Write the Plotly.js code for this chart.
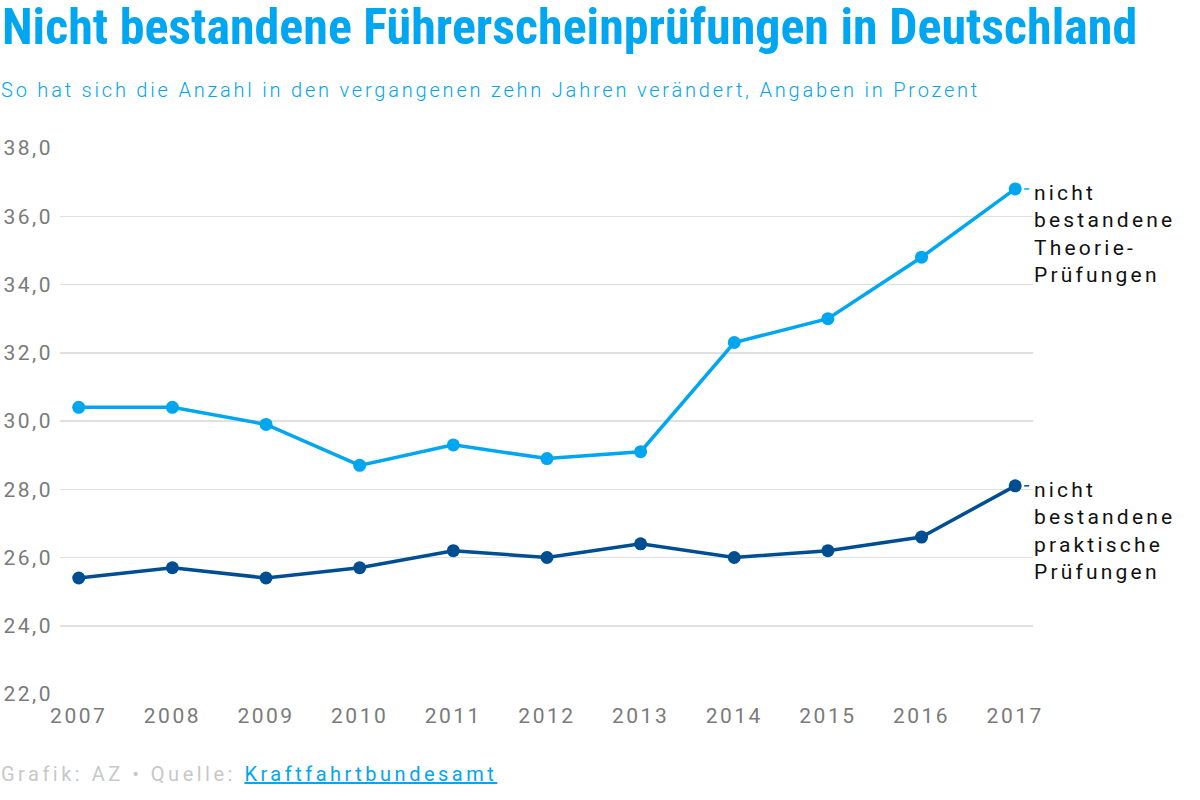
<!DOCTYPE html>
<html><head><meta charset="utf-8">
<script src="https://cdn.plot.ly/plotly-3.0.1.min.js"></script>
<style>
html,body{margin:0;padding:0;background:#fff;}
#chart{width:1200px;height:800px;}
.xtick text, .ytick text{letter-spacing:2.5px;}
</style>
</head><body><div id="chart"></div>
<script>
const years = [2007,2008,2009,2010,2011,2012,2013,2014,2015,2016,2017];
const theorie = [30.4,30.4,29.9,28.7,29.3,28.9,29.1,32.3,33.0,34.8,36.8];
const praxis  = [25.4,25.7,25.4,25.7,26.2,26.0,26.4,26.0,26.2,26.6,28.1];
const yTicks = [22,24,26,28,30,32,34,36,38];
const seriesNames = ['nicht<br>bestandene<br>Theorie-<br>Prüfungen','nicht<br>bestandene<br>praktische<br>Prüfungen'];
const colors = ['#00a6f0','#004e92'];
const titleText = 'Nicht bestandene Führerscheinprüfungen in Deutschland';
const subtitleText = 'So hat sich die Anzahl in den vergangenen zehn Jahren verändert, Angaben in Prozent';
const sourceLabel = 'Grafik: AZ • Quelle: ';
const sourceName = 'Kraftfahrtbundesamt';

const F = 'Roboto, sans-serif';
function spaced(txt, px){
  return txt.split('<br>').map(l=>'<span style="letter-spacing:'+px+'px">'+l+'</span>').join('<br>');
}
const series = [theorie, praxis];
const traces = series.map((vals,i)=>({
  x: years, y: vals, type:'scatter', mode:'lines+markers',
  line:{color:colors[i], width:3.5},
  marker:{color:colors[i], size:13},
  hoverinfo:'x+y'
}));
const lastX = years[years.length-1];
const ann = [];
const shapes = [];
series.forEach((vals,i)=>{
  const lastY = vals[vals.length-1];
  ann.push({x:lastX, y:lastY, xref:'x', yref:'y', text:spaced(seriesNames[i],3.2), showarrow:false,
    xanchor:'left', yanchor:'top', align:'left', xshift:17, yshift:10,
    font:{family:F, size:21, color:'#111'}});
  shapes.push({type:'line', xref:'x', yref:'y', xsizemode:'pixel', xanchor:lastX,
    x0:9, x1:14, y0:lastY, y1:lastY, line:{color:colors[i], width:1.5}});
});
ann.push({xref:'paper', yref:'paper', x:0, y:1, xshift:-60, yshift:121, xanchor:'left', yanchor:'middle',
  text:'<b>'+titleText+'</b>', showarrow:false,
  font:{family:'"Roboto Condensed","Liberation Sans Narrow",Roboto,sans-serif', size:50, color:'#00a6f0', weight:700}});
ann.push({xref:'paper', yref:'paper', x:0, y:1, xshift:-61, yshift:58, xanchor:'left', yanchor:'middle',
  text:spaced(subtitleText,2.8), showarrow:false,
  font:{family:F, size:20, color:'#00a6f0', weight:300}});
ann.push({xref:'paper', yref:'paper', x:0, y:0, xshift:-61, yshift:-80, xanchor:'left', yanchor:'middle',
  text:'<span style="letter-spacing:3.5px">'+sourceLabel+'<a href="https://www.kba.de" style="color:#00a6f0;text-decoration:underline">'+sourceName+'</a></span>', showarrow:false,
  font:{family:F, size:20, color:'#c8c8c8', weight:400}});

const layout = {
  width:1200, height:800,
  margin:{l:60, r:167, t:148, b:106, pad:0},
  paper_bgcolor:'#fff', plot_bgcolor:'#fff',
  showlegend:false,
  separators:',.',
  font:{family:F},
  xaxis:{range:[2006.8,2017.19], tickvals:years, ticktext:years.map(String), showgrid:false, zeroline:false,
    showline:false, ticks:'', ticklabelstandoff:7,
    tickfont:{family:F, size:21, color:'#7a7a7a', weight:400}},
  yaxis:{range:[22,38], tickvals:yTicks, tickformat:'.1f', showgrid:true, gridcolor:'#e0e0e0', gridwidth:1.5,
    zeroline:false, showline:false, ticks:'', ticklabelstandoff:6,
    tickfont:{family:F, size:21, color:'#7a7a7a', weight:400}},
  annotations:ann, shapes:shapes
};
Plotly.newPlot('chart', traces, layout, {displayModeBar:false, staticPlot:true});
</script></body></html>
